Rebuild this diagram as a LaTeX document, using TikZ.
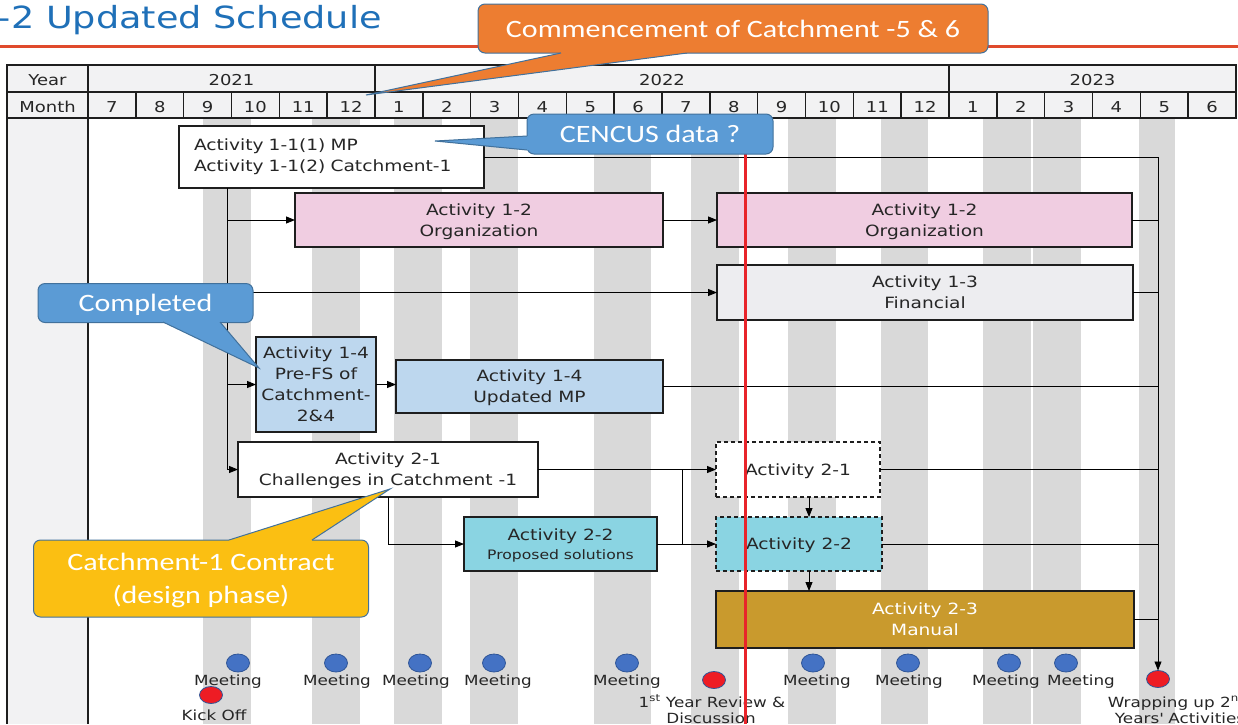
\documentclass[tikz,border=0pt]{standalone}
\usepackage{fontspec}
\setmainfont{DejaVu Sans}[FakeStretch=1.2]
\newfontfamily\calloutfont{Carlito}[FakeStretch=1.2]
\usetikzlibrary{arrows.meta,shapes.geometric,calc}

\definecolor{titleblue}{HTML}{1F70B8}
\definecolor{rulered}{HTML}{E04A2C}
\definecolor{ink}{HTML}{262626}
\definecolor{edge}{HTML}{1E1E1E}
\definecolor{headfill}{HTML}{F2F2F3}
\definecolor{stripe}{HTML}{D9D9D9}
\definecolor{pinkbox}{HTML}{F0CDE1}
\definecolor{greybox}{HTML}{EDEDF0}
\definecolor{lightblue}{HTML}{BDD7EE}
\definecolor{cyanbox}{HTML}{8AD4E2}
\definecolor{goldbox}{HTML}{C99A2D}
\definecolor{meetblue}{HTML}{4472C4}
\definecolor{meetedge}{HTML}{2F5597}
\definecolor{keyred}{HTML}{EE1C24}
\definecolor{redline}{HTML}{E8242A}
\definecolor{corange}{HTML}{ED7D31}
\definecolor{cblue}{HTML}{5B9BD5}
\definecolor{cyellow}{HTML}{FBBF12}
\definecolor{cedge}{HTML}{41719C}

\newcommand\actfont{\fontsize{15.5}{21}\selectfont}
\newcommand\headfont{\fontsize{15}{18}\selectfont}
\newcommand\lblfont{\fontsize{14}{17}\selectfont}
\newcommand\callfont{\calloutfont\fontsize{25}{33}\selectfont}

\begin{document}
\begin{tikzpicture}[x=1pt,y=-1pt,
  every node/.style={inner sep=0pt, outer sep=0pt, text=ink},
  hcell/.style={draw=edge, line width=1.4pt, fill=headfill, font=\headfont, text height=14pt, text depth=0pt},
  actbox/.style={draw=edge, line width=1.4pt, font=\actfont, align=center, text depth=0pt},
  dashbox/.style={actbox, dash pattern=on 4pt off 3pt},
  conn/.style={draw=black, line width=0.9pt},
  arr/.style={conn, -{Triangle[length=9pt,width=7pt]}},
  meet/.style={ellipse, fill=meetblue, draw=meetedge, line width=0.8pt, minimum width=23, minimum height=18},
  keydot/.style={ellipse, fill=keyred, draw=meetedge, line width=0.8pt, minimum width=23, minimum height=17},
  lbl/.style={font=\lblfont, anchor=base},
  callbox/.style={draw=cedge, line width=1pt, rounded corners=7pt, font=\callfont, text=white, align=center, text depth=0pt},
  tail/.style={draw=cedge, line width=1pt}]

\useasboundingbox (0,0) rectangle (1238,724);
\clip (0,0) rectangle (1238,724);

% grey stripes behind the time line
\foreach \a/\b in {203/251,312/360,394/442,470/518,594/651,691/739,788/836,881/928,983/1031,1033/1081,1139/1175}
  \fill[stripe] (\a,118) rectangle (\b,724);

% left label column of the chart body
\fill[headfill] (7,118) rectangle (88,724);
\draw[edge, line width=1.4pt] (7,118) -- (7,724);
\draw[edge, line width=1.4pt] (88,118) -- (88,724);

% header: years and months
\node[hcell, minimum width=81, minimum height=27] (yearlbl) at (47.5,78.5) {Year};
\node[hcell, minimum width=81, minimum height=26] (monthlbl) at (47.5,105) {Month};
\node[hcell, minimum width=287, minimum height=27] (y2021) at (231.5,78.5) {2021};
\node[hcell, minimum width=574, minimum height=27] (y2022) at (662,78.5) {2022};
\node[hcell, minimum width=287, minimum height=27] (y2023) at (1092.5,78.5) {2023};
\foreach \m [count=\i from 0] in {7,8,9,10,11,12,1,2,3,4,5,6,7,8,9,10,11,12,1,2,3,4,5,6}
  \node[hcell, minimum width=47.833, minimum height=26] (m\i) at ({88+47.833*(\i+0.5)},105) {\m};

% activity boxes
\node[actbox, text depth={}, fill=white, text width=275, inner xsep=15pt, align=left, minimum height=62] (A11) at (331.5,157)
  {Activity 1-1(1) MP\\Activity 1-1(2) Catchment-1};
\node[actbox, fill=pinkbox, minimum width=368, minimum height=54] (A12a) at (479,220) {Activity 1-2\\Organization};
\node[actbox, fill=pinkbox, minimum width=415, minimum height=54] (A12b) at (924.5,220) {Activity 1-2\\Organization};
\node[actbox, fill=greybox, minimum width=416, minimum height=55] (A13) at (925,292.5) {Activity 1-3\\Financial};
\node[actbox, fill=lightblue, minimum width=120, minimum height=95] (A14a) at (316,384.5) {Activity 1-4\\Pre-FS of\\Catchment-\\2\&4};
\node[actbox, fill=lightblue, minimum width=267, minimum height=53] (A14b) at (529.5,386.5) {Activity 1-4\\Updated MP};
\node[actbox, fill=white, minimum width=300, minimum height=55] (A21a) at (388,469.5) {Activity 2-1\\Challenges in Catchment -1};
\node[actbox, fill=cyanbox, minimum width=193, minimum height=54] (A22a) at (560.5,544)
  {Activity 2-2\\[-2pt]{\fontsize{13}{16}\selectfont Proposed solutions}};
\node[dashbox, fill=white, minimum width=164, minimum height=55] (A21b) at (798,469.5) {Activity 2-1};
\node[dashbox, fill=cyanbox, minimum width=166, minimum height=54] (A22b) at (799,544) {Activity 2-2};
\node[actbox, fill=goldbox, text=white, minimum width=418, minimum height=57] (A23) at (925,619.5) {Activity 2-3\\Manual};

% milestones
\foreach \x [count=\k] in {238,336,420,494,627,813,908,1009,1066}
  \node[meet] (meet\k) at (\x,663) {};
\node[keydot] (kickoff) at (211,695) {};
\node[keydot] (review) at (714,680) {};
\node[keydot] (wrap) at (1158,679) {};

\foreach \x [count=\k] in {228,337,416,498,627,817,909,1006,1081}
  \node[lbl] (meetlbl\k) at (\x,685) {Meeting};
\node[lbl] (kicklbl) at (214,720) {Kick Off};
\node[lbl] (reviewlbl) at (712,707) {1\textsuperscript{st} Year Review \&};
\node[lbl] (reviewlbl2) at (711,723) {Discussion};
\node[lbl] (wraplbl) at (1177,707) {Wrapping up 2\textsuperscript{nd}};
\node[lbl] (wraplbl2) at (1180,723) {Years\textquotesingle{} Activities};

% connectors
\coordinate (trunk) at (227,188);
\coordinate (merge) at (682,0);
\coordinate (drop) at (809,0);
\draw[arr] (trunk) |- (A21a.west);
\draw[arr] (trunk |- A12a.west) -- (A12a.west);
\draw[arr] (trunk |- A13.west) -- (A13.west);
\draw[arr] (trunk |- A14a.west) -- (A14a.west);
\draw[arr] (A12a) -- (A12b);
\draw[arr] (A14a.east) -- (A14a.east -| A14b.west);
\draw[arr] (A21a) -- (A21b);
\draw[arr] (A22a) -- (A22b);
\draw[conn] (A21a.east -| merge) -- (A22a.east -| merge);
\draw[arr] (A21a.south) |- (A22a.west);
\draw[arr] (A21b.south -| drop) -- (A22b.north -| drop);
\draw[arr] (A22b.south -| drop) -- (A23.north -| drop);
\draw[arr] (A11.east) -| (wrap.north);
\foreach \n in {A12b,A13,A14b,A21b,A22b,A23}
  \draw[conn] (\n.east) -- (\n.east -| wrap);

% title and rule
\node[anchor=base west, font=\fontsize{30.5}{30}\selectfont, text=titleblue] (title) at (-2,28) {-2 Updated Schedule};
\draw[rulered, line width=3pt] (0,46) -- (1238,46);

% red marker line for the current month
\coordinate (redtop) at (745,154);
\coordinate (redbot) at (745,724);
\draw[redline, line width=3pt] (redtop) -- (redbot);

% callouts
\node[callbox, fill=corange, minimum width=510, minimum height=49] (commence) at (733,28.5) {Commencement of Catchment -5 \& 6};
\coordinate (commenceTip) at (366,95);
\fill[corange] (561,53) -- (commenceTip) -- (687,53) -- (687,50) -- (561,50) -- cycle;
\draw[tail] (561,53) -- (commenceTip) -- (687,53);

\node[callbox, fill=cblue, minimum width=246, minimum height=40] (cencus) at (650,134) {CENCUS data ?};
\coordinate (cencusTip) at (435,141);
\fill[cblue] (527,136) -- (cencusTip) -- (527,150) -- (530,150) -- (530,136) -- cycle;
\draw[tail] (527,136) -- (cencusTip) -- (527,150);

\node[callbox, fill=cblue, minimum width=215, minimum height=39] (completed) at (145.5,303) {Completed};
\coordinate (completedTip) at (259,368);
\fill[cblue] (163,322) -- (completedTip) -- (220,322) -- (220,319) -- (163,319) -- cycle;
\draw[tail] (163,322) -- (completedTip) -- (220,322);

\node[callbox, fill=cyellow, minimum width=335, minimum height=77] (contract) at (201,578.5) {Catchment-1 Contract\\(design phase)};
\coordinate (contractTip) at (390,489);
\fill[cyellow] (229,540) -- (contractTip) -- (312,540) -- (312,543) -- (229,543) -- cycle;
\draw[tail] (229,540) -- (contractTip) -- (312,540);
\end{tikzpicture}
\end{document}
